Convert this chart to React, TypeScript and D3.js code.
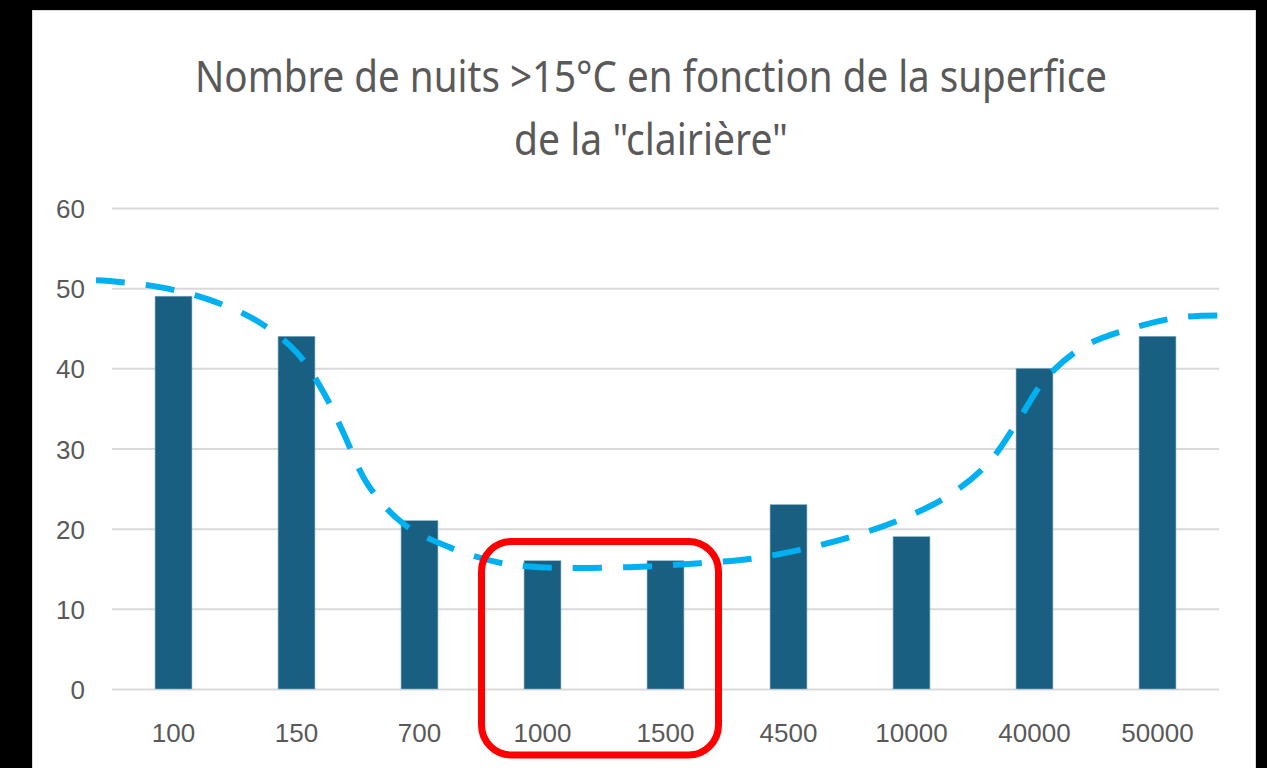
import React, { useEffect, useRef } from 'react'
import * as d3 from 'd3'

// surface of the "clearing" (m²) and number of nights above 15°C
const categories = ['100', '150', '700', '1000', '1500', '4500', '10000', '40000', '50000']
const nights = [49, 44, 21, 16, 16, 23, 19, 40, 44]
const yTicks = [0, 10, 20, 30, 40, 50, 60]

// polynomial trend line (position in category units, value)
const trendPos = [-0.63, -0.52, -0.1, 0.3, 0.68, 1.0, 1.22, 1.38, 1.58, 1.87, 2.24, 2.64, 2.98, 3.71, 4.28, 4.72, 5.13, 5.53, 5.92, 6.3, 6.62, 6.86, 7.09, 7.4, 7.79, 8.2, 8.62]
const trendValues = [51.0, 50.9, 50.1, 48.5, 45.9, 42.0, 37.0, 32.0, 25.5, 20.6, 17.7, 15.8, 15.2, 15.2, 15.7, 16.3, 17.5, 19.1, 21.2, 24.1, 28.1, 33.3, 38.7, 42.7, 45.0, 46.4, 46.6]

const highlighted = ['1000', '1500']

const titleLines = ['Nombre de nuits >15°C en fonction de la superfice', 'de la "clairière"']

const W = 1267
const H = 768
const left = 112
const right = 1219
const top = 208
const bottom = 689

function drawChart(svgEl: SVGSVGElement) {
    const svg = d3.select(svgEl)
    svg.selectAll('*').remove()

    svg.append('rect').attr('width', W).attr('height', H).attr('fill', '#000')
    svg.append('rect')
        .attr('x', 32.5).attr('y', 10.5)
        .attr('width', 1223).attr('height', 770)
        .attr('fill', '#fff')
        .attr('stroke', '#d9d9d9')

    // title
    const titleWidths = [912, 274]
    svg.selectAll('text.title')
        .data(titleLines)
        .enter()
        .append('text')
        .attr('class', 'title')
        .attr('x', 651)
        .attr('y', (d, i) => 92 + i * 63)
        .attr('text-anchor', 'middle')
        .attr('textLength', (d, i) => titleWidths[i])
        .attr('lengthAdjust', 'spacingAndGlyphs')
        .style('font-family', '"Noto Sans", sans-serif')
        .style('font-size', '44px')
        .attr('fill', '#595959')
        .text(d => d)

    const x = d3.scaleBand()
        .domain(categories)
        .range([left, right])
        .paddingInner(0.7)
        .paddingOuter(0.35)

    const y = d3.scaleLinear()
        .domain([0, 60])
        .range([bottom, top])

    // gridlines + y labels
    const yAxis = d3.axisLeft(y)
        .tickValues(yTicks)
        .tickSize(-(right - left))
        .tickPadding(27)

    const yg = svg.append('g')
        .attr('transform', `translate(${left},0)`)
        .call(yAxis)
    yg.select('.domain').remove()
    yg.selectAll('line').attr('stroke', '#d9d9d9').attr('stroke-width', 2)
    yg.selectAll('text')
        .attr('dy', '0.37em')
        .attr('fill', '#595959')
        .style('font-family', '"Liberation Sans", Arial, sans-serif')
        .style('font-size', '26px')

    // x labels
    const xg = svg.append('g')
        .attr('transform', `translate(0,${bottom})`)
        .call(d3.axisBottom(x).tickSize(0))
    xg.select('.domain').remove()
    xg.selectAll('text')
        .attr('y', 53)
        .attr('dy', 0)
        .attr('fill', '#595959')
        .style('font-family', '"Liberation Sans", Arial, sans-serif')
        .style('font-size', '26px')

    // bars
    svg.append('g')
        .selectAll('rect')
        .data(nights)
        .enter()
        .append('rect')
        .attr('x', (d, i) => x(categories[i]))
        .attr('y', d => y(d))
        .attr('width', x.bandwidth())
        .attr('height', d => y(0) - y(d))
        .attr('fill', '#185f82')
        .attr('stroke', '#8fb0c2')
        .attr('stroke-width', 0.6)

    // trend line
    const step = x.step()
    const gap = (step - x.bandwidth()) / 2
    const posScale = d3.scaleLinear()
        .domain([0, 1])
        .range([x(categories[0]) + x.bandwidth() / 2, x(categories[0]) + x.bandwidth() / 2 + step])

    const line = d3.line<number>()
        .x((d, i) => posScale(trendPos[i]))
        .y(d => y(d))
        .curve(d3.curveCatmullRom)

    svg.append('path')
        .datum(trendValues)
        .attr('d', line)
        .attr('fill', 'none')
        .attr('stroke', '#00b0f0')
        .attr('stroke-width', 6)
        .attr('stroke-dasharray', '29 21')

    // highlight box around two categories
    const hx0 = x(highlighted[0]) - gap + 0.5
    const hx1 = x(highlighted[1]) + x.bandwidth() + gap - 8.5
    svg.append('rect')
        .attr('x', hx0)
        .attr('y', y(18.4))
        .attr('width', hx1 - hx0)
        .attr('height', 755 - y(18.4))
        .attr('rx', 30)
        .attr('fill', 'none')
        .attr('stroke', '#ff0000')
        .attr('stroke-width', 7)
}

export default function App() {
    const ref = useRef<SVGSVGElement>(null)

    useEffect(() => {
        if (ref.current) drawChart(ref.current)
    }, [])

    return (
        <svg ref={ref} width={W} height={H} style={{ position: 'absolute', left: 0, top: 0 }} />
    )
}
